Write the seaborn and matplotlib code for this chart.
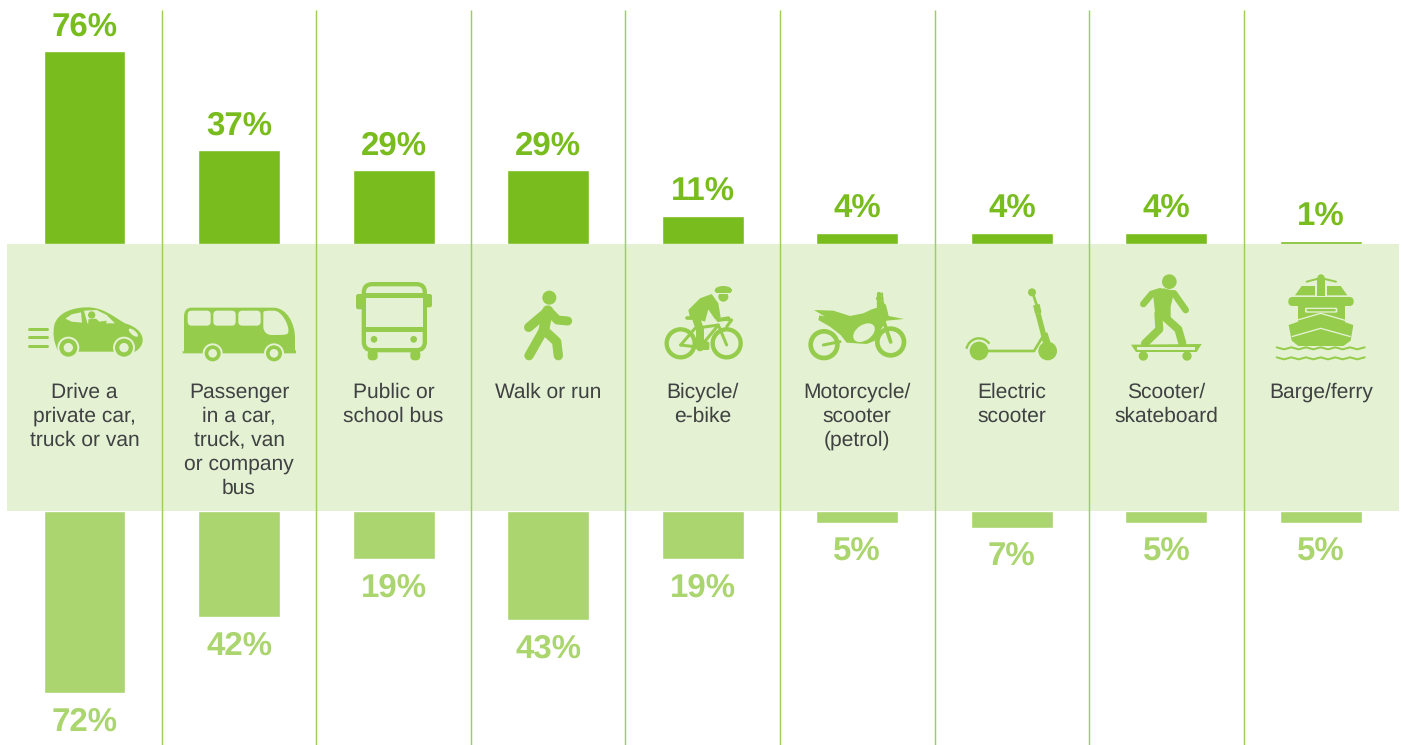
# -*- coding: utf-8 -*-
"""
Travel modes, two mirrored bar rows with a pictogram band between them.
"""

#%% some imports

import pandas as pd
import matplotlib
matplotlib.use("Agg")
import matplotlib.pyplot as plt
import seaborn as sns
from matplotlib.path import Path
from matplotlib.patches import Circle, Ellipse, FancyBboxPatch, PathPatch, Polygon, Rectangle, Arc
from matplotlib.transforms import Affine2D

#%% data

modes = ['Drive a\nprivate car,\ntruck or van', 'Passenger\nin a car,\ntruck, van\nor company\nbus',
         'Public or\nschool bus', 'Walk or run', 'Bicycle/\ne-bike',
         'Motorcycle/\nscooter\n(petrol)', 'Electric\nscooter', 'Scooter/\nskateboard', 'Barge/ferry']
# bar heights, the printed labels are these rounded
upper_share = [76, 37.1, 29.3, 29.3, 11, 4.4, 4.4, 4.4, 1.2]
lower_share = [72, 42, 19, 43, 19, 5, 7, 5, 5]

#%% styling

W, H = 1402, 745
STEP = 154.56      # px between columns
FIRST = 84.5       # px centre of first column
PX_PER_PCT = 2.54
TOP_BASE, LOW_BASE = 244, 510.5

DARK = '#78BC1E'
LIGHT = '#ABD56F'
ICON = '#95CC4B'
BAND = '#E4F1D3'
TEXT = '#3F4142'
DIVIDER = '#9CCF57'

sns.set_style("white")
plt.rcParams['font.family'] = ['Liberation Sans', 'DejaVu Sans']
plt.rcParams['text.hinting'] = 'no_hinting'
plt.rcParams['text.hinting_factor'] = 1

fig = plt.figure(figsize=(W / 100, H / 100), dpi=100, facecolor='white')

#%% background layer in pixel coordinates

bg = fig.add_axes([0, 0, 1, 1], zorder=0)
bg.set_xlim(0, W)
bg.set_ylim(H, 0)
bg.axis('off')

bg.add_patch(Rectangle((7, TOP_BASE - 0.5), 1392, 267.5, fc=BAND, ec='none', zorder=1))
for i in range(8):
    xpos = FIRST + STEP * (i + 0.5)
    bg.plot([xpos, xpos], [10, H], color=DIVIDER, lw=1.05, zorder=2, solid_capstyle='butt')

for i, label in enumerate(modes):
    bg.text(FIRST + STEP * i, 382.5, label, ha='center', va='top', fontsize=15.3,
            color=TEXT, linespacing=1.29, zorder=4)

#%% bars

def draw_row(values, rect, ylim, color, pad):
    ax = fig.add_axes(rect, zorder=1)
    df = pd.DataFrame({'mode': modes, 'share': values})
    sns.barplot(data=df, x='mode', y='share', color=color, saturation=1, width=0.53, ax=ax)
    ax.set_xlim(-FIRST / STEP, (W - FIRST) / STEP)
    ax.set_ylim(*ylim)
    ax.bar_label(ax.containers[0], fmt='%.0f%%', padding=pad, fontsize=24, fontweight='bold',
                 color=color, clip_on=False)
    ax.axis('off')
    ax.patch.set_visible(False)
    return ax

draw_row(upper_share, [0, (H - TOP_BASE) / H, 1, TOP_BASE / H], (0, TOP_BASE / PX_PER_PCT), DARK, 6)
draw_row(lower_share, [0, 0, 1, (H - LOW_BASE) / H], ((H - LOW_BASE) / PX_PER_PCT, 0), LIGHT, 10)

#%% pictograms, drawn in the px of a 3x crop starting at (x0, 270)

CROP_LW = 0.24  # pt per crop px


def place(x0):
    return Affine2D().scale(1 / 3).translate(x0, 270) + bg.transData


def stroke(tr, pts, w, color=ICON, cap='round', z=5):
    xs, ys = zip(*pts)
    bg.plot(xs, ys, color=color, lw=w * CROP_LW, solid_capstyle=cap, solid_joinstyle='round',
            transform=tr, zorder=z)


def shape(tr, patch, z=5):
    patch.set_transform(tr)
    patch.set_zorder(z)
    bg.add_patch(patch)


def disc(tr, x, y, r, color=ICON, z=5):
    shape(tr, Circle((x, y), r, fc=color, ec='none'), z)


def poly(tr, pts, color=ICON, z=5):
    shape(tr, Polygon(pts, closed=True, fc=color, ec='none'), z)


def rrect(tr, x0, y0, x1, y1, r, color=ICON, z=5):
    shape(tr, FancyBboxPatch((x0 + r, y0 + r), x1 - x0 - 2 * r, y1 - y0 - 2 * r,
                             boxstyle='round,pad=%f,rounding_size=%f' % (r, r), fc=color, ec='none',
                             mutation_aspect=1), z)


def curve(tr, verts, codes, color=ICON, z=5):
    shape(tr, PathPatch(Path(verts, codes), fc=color, ec='none'), z)


def wheel(tr, x, y, gap, outer, hole):
    disc(tr, x, y, gap, BAND, 6)
    disc(tr, x, y, outer, ICON, 7)
    disc(tr, x, y, hole, BAND, 8)


def ring(tr, x, y, r, w):
    shape(tr, Circle((x, y), r, fc='none', ec=ICON, lw=w * CROP_LW))


M, L, C = Path.MOVETO, Path.LINETO, Path.CURVE4

# car
t = place(0)
curve(t, [(175, 245), (160, 215), (158, 190), (163, 165), (172, 130), (215, 112), (262, 112),
          (310, 112), (340, 140), (375, 160), (410, 170), (428, 190), (428, 210),
          (428, 225), (418, 238), (405, 245), (175, 245)],
      [M] + [C] * 15 + [L])
poly(t, [(196, 146), (215, 133), (243, 127), (246, 158), (215, 155)], BAND, 6)
poly(t, [(252, 122), (290, 120), (320, 135), (345, 160), (262, 160)], BAND, 6)
disc(t, 275, 135, 11, ICON, 7)
poly(t, [(265, 148), (288, 146), (298, 155), (320, 152), (318, 162), (265, 162)], ICON, 7)
shape(t, Ellipse((400, 188), 34, 14, angle=40, fc=BAND, ec='none'), 6)
wheel(t, 205, 233, 33, 27, 14)
wheel(t, 372, 233, 33, 27, 14)
for yl in (176, 202, 229):
    stroke(t, [(87, yl), (140, yl)], 9)

# minibus
curve(t, [(552, 245), (552, 140), (552, 122), (560, 113), (575, 113), (820, 113),
          (860, 113), (885, 160), (885, 205), (885, 240), (888, 242), (888, 250), (548, 250), (548, 242)],
      [M, L, C, C, C, L, C, C, C, L, L, L, L, L])
rrect(t, 563, 122, 632, 167, 12, BAND, 6)
rrect(t, 640, 122, 707, 167, 12, BAND, 6)
rrect(t, 715, 122, 782, 167, 12, BAND, 6)
curve(t, [(790, 128), (790, 122), (798, 122), (822, 122), (845, 122), (868, 165), (865, 185),
          (865, 195), (855, 195), (815, 195), (800, 195), (790, 185), (790, 170)],
      [M, C, C, L, C, C, C, C, C, L, C, C, L], BAND, 6)
wheel(t, 638, 250, 30, 24, 13)
wheel(t, 822, 250, 30, 24, 13)

# public bus
rrect(t, 1068, 72, 1097, 118, 7)
rrect(t, 1268, 72, 1296, 112, 7)
rrect(t, 1085, 36, 1281, 247, 32)
rrect(t, 1098, 49, 1268, 234, 18, BAND, 6)
shape(t, Rectangle((1098, 70), 170, 14, fc=ICON, ec='none'), 7)
shape(t, Rectangle((1098, 171), 170, 15, fc=ICON, ec='none'), 7)
shape(t, Rectangle((1098, 83), 170, 88, fc=BAND, ec='none'), 6)
disc(t, 1122, 208, 10, ICON, 7)
disc(t, 1241, 208, 10, ICON, 7)
rrect(t, 1103, 240, 1133, 271, 13)
rrect(t, 1231, 240, 1261, 271, 13)

# walker
t = place(470)
disc(t, 238, 83, 21)
stroke(t, [(176, 172), (235, 122)], 28)
stroke(t, [(235, 122), (262, 150), (293, 153)], 27)
stroke(t, [(233, 122), (222, 178)], 32)
stroke(t, [(222, 178), (177, 257)], 28)
stroke(t, [(222, 180), (260, 215), (265, 257)], 28)

# cyclist
ring(t, 632, 220, 42, 13)
ring(t, 770, 220, 42, 13)
stroke(t, [(632, 225), (675, 175), (745, 165), (770, 225)], 9)
stroke(t, [(632, 225), (690, 232), (745, 165)], 9)
shape(t, Ellipse((760, 61), 52, 26, fc=ICON, ec='none'))
disc(t, 760, 80, 15)
stroke(t, [(737, 70), (783, 70)], 3, BAND, z=6)
poly(t, [(655, 120), (690, 85), (725, 72), (745, 100), (752, 142), (735, 148), (715, 118),
         (705, 155), (660, 142)])
stroke(t, [(675, 135), (690, 180), (690, 232)], 24)
stroke(t, [(725, 105), (745, 150), (775, 145)], 12)
stroke(t, [(760, 148), (785, 150), (770, 170)], 9)
stroke(t, [(652, 145), (680, 145)], 11)
rrect(t, 690, 215, 718, 240, 5)

# motorbike
ring(t, 1062, 224, 40, 14)
ring(t, 1262, 216, 40, 14)
stroke(t, [(1060, 225), (1110, 215)], 9)
stroke(t, [(1240, 150), (1262, 216)], 11)
poly(t, [(1032, 120), (1090, 122), (1140, 138), (1180, 130), (1205, 118), (1225, 112), (1232, 90),
         (1248, 105), (1256, 138), (1302, 147), (1250, 152), (1235, 175), (1215, 212), (1190, 222),
         (1130, 218), (1112, 195), (1080, 170), (1045, 150), (1048, 136), (1065, 140)])
shape(t, Ellipse((1182, 188), 72, 46, angle=-35, fc=BAND, ec='none'), 6)
stroke(t, [(1228, 72), (1228, 110)], 13)
stroke(t, [(1220, 84), (1232, 84)], 10)
stroke(t, [(1236, 70), (1240, 112)], 6)

# electric scooter
t = place(930)
disc(t, 147, 243, 28)
disc(t, 353, 243, 28)
shape(t, Arc((147, 243), 76, 76, theta1=190, theta2=325, ec=ICON, lw=7 * CROP_LW))
stroke(t, [(175, 243), (312, 243), (335, 205)], 8)
disc(t, 306, 67, 12)
stroke(t, [(310, 75), (320, 105)], 8)
stroke(t, [(319, 104), (325, 130)], 20, cap='butt')
stroke(t, [(324, 130), (347, 218)], 16, cap='butt')
stroke(t, [(342, 190), (352, 222)], 21, cap='butt')

# skateboarder
disc(t, 718, 35, 22)
poly(t, [(668, 65), (700, 55), (733, 62), (722, 110), (722, 145), (692, 150), (675, 125)])
stroke(t, [(640, 102), (665, 72), (690, 64)], 20)
stroke(t, [(732, 70), (767, 120)], 20)
stroke(t, [(685, 130), (688, 178), (645, 220)], 24)
stroke(t, [(705, 142), (745, 178), (757, 220)], 24)
poly(t, [(603, 224), (815, 222), (800, 246), (618, 246)])
shape(t, Rectangle((622, 232), 172, 7, fc=BAND, ec='none'), 6)
disc(t, 640, 258, 14)
disc(t, 771, 258, 14)

# ferry
stroke(t, [(1130, 35), (1172, 24), (1218, 35)], 6)
disc(t, 1173, 24, 11)
shape(t, Rectangle((1160, 24), 26, 55, fc=ICON, ec='none'))
poly(t, [(1095, 76), (1115, 48), (1155, 48), (1155, 76)])
poly(t, [(1191, 76), (1191, 48), (1232, 48), (1252, 76)])
rrect(t, 1075, 81, 1271, 108, 13)
shape(t, Rectangle((1105, 105), 140, 60, fc=ICON, ec='none'))
rrect(t, 1125, 113, 1222, 128, 4, BAND, 6)
rrect(t, 1130, 117, 1217, 124, 2, ICON, 7)
poly(t, [(1076, 165), (1172, 132), (1270, 165), (1262, 212), (1240, 228), (1105, 228), (1085, 212)])
stroke(t, [(1075, 158), (1172, 130), (1270, 158)], 4, BAND, 'butt', 6)
stroke(t, [(1085, 200), (1172, 175), (1262, 200)], 4, BAND, 'butt', 6)
for yw in (232, 262):
    stroke(t, [(1040 + 22 * k, yw + 6 * (k % 2)) for k in range(13)], 6)

#%% save

fig.savefig('out.png', dpi=100)
